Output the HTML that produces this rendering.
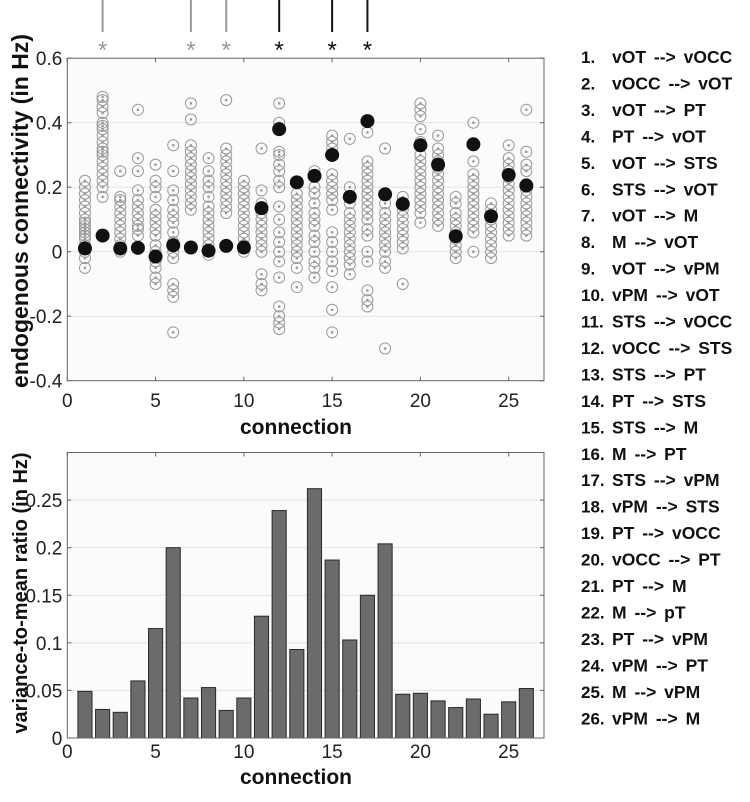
<!DOCTYPE html>
<html><head><meta charset="utf-8"><style>
body{margin:0;background:#fff;}
svg text{font-family:"Liberation Sans",sans-serif;}
</style></head><body>
<svg id="c" width="750" height="797" xmlns="http://www.w3.org/2000/svg"></svg>
<script>
const connections=[1,2,3,4,5,6,7,8,9,10,11,12,13,14,15,16,17,18,19,20,21,22,23,24,25,26];
const meanValues=[0.01,0.05,0.01,0.012,-0.015,0.02,0.013,0.003,0.018,0.013,0.135,0.38,0.215,0.235,0.3,0.17,0.405,0.178,0.148,0.33,0.27,0.048,0.333,0.11,0.238,0.205];
const ratioValues=[0.049,0.03,0.027,0.06,0.115,0.2,0.042,0.053,0.029,0.042,0.128,0.239,0.093,0.262,0.187,0.103,0.15,0.204,0.046,0.047,0.039,0.032,0.041,0.025,0.038,0.052];
const subjectValues=[
[-0.05,-0.02,0,0.02,0.04,0.05,0.06,0.07,0.08,0.09,0.1,0.12,0.14,0.16,0.18,0.2,0.22],
[0.17,0.2,0.22,0.24,0.26,0.28,0.3,0.31,0.32,0.34,0.36,0.38,0.39,0.4,0.43,0.45,0.47,0.48],
[0,0.02,0.04,0.06,0.08,0.1,0.12,0.14,0.16,0.17,0.25],
[0.05,0.07,0.08,0.1,0.12,0.14,0.16,0.19,0.25,0.29,0.44],
[-0.1,-0.08,-0.05,-0.03,0,0.02,0.05,0.07,0.09,0.11,0.13,0.17,0.2,0.22,0.27],
[-0.25,-0.14,-0.12,-0.1,-0.02,0,0.03,0.06,0.09,0.11,0.13,0.16,0.19,0.25,0.33],
[0.13,0.15,0.17,0.19,0.21,0.23,0.25,0.27,0.29,0.31,0.33,0.41,0.46],
[-0.01,0.02,0.04,0.06,0.08,0.1,0.12,0.14,0.17,0.2,0.22,0.25,0.29],
[0.12,0.14,0.16,0.18,0.2,0.22,0.24,0.26,0.28,0.3,0.32,0.47],
[0,0.02,0.04,0.06,0.08,0.1,0.12,0.14,0.16,0.18,0.2,0.22],
[-0.12,-0.1,-0.07,0,0.02,0.04,0.06,0.08,0.1,0.12,0.15,0.19,0.32],
[-0.24,-0.22,-0.2,-0.17,-0.08,-0.03,0,0.03,0.06,0.1,0.14,0.2,0.22,0.25,0.27,0.3,0.31,0.4,0.46],
[-0.11,-0.05,-0.02,0,0.02,0.04,0.06,0.08,0.1,0.12,0.14,0.16,0.18],
[-0.08,-0.05,-0.03,0,0.03,0.05,0.08,0.1,0.12,0.15,0.18,0.2,0.25],
[-0.25,-0.18,-0.11,-0.06,-0.03,0,0.03,0.06,0.13,0.16,0.18,0.2,0.22,0.24,0.32,0.34,0.36],
[-0.07,-0.04,-0.02,0,0.02,0.04,0.06,0.08,0.1,0.12,0.15,0.2,0.35],
[-0.17,-0.15,-0.12,-0.03,0,0.05,0.07,0.1,0.12,0.14,0.16,0.18,0.2,0.22,0.24,0.26,0.28,0.37],
[-0.3,-0.05,-0.03,0,0.02,0.04,0.06,0.08,0.1,0.12,0.15,0.32],
[-0.1,0.01,0.03,0.05,0.07,0.09,0.11,0.13,0.15,0.17],
[0.09,0.12,0.14,0.16,0.18,0.2,0.22,0.24,0.26,0.28,0.3,0.34,0.38,0.42,0.44,0.46],
[0.08,0.1,0.12,0.14,0.16,0.18,0.2,0.22,0.24,0.26,0.28,0.3,0.32,0.36],
[-0.02,0,0.02,0.04,0.06,0.08,0.1,0.12,0.15,0.17],
[0,0.06,0.08,0.1,0.12,0.14,0.16,0.18,0.2,0.22,0.24,0.28,0.4],
[-0.02,0,0.02,0.04,0.06,0.08,0.1,0.13,0.15],
[0.05,0.07,0.09,0.11,0.13,0.15,0.17,0.19,0.21,0.23,0.25,0.27,0.29,0.33],
[0.05,0.07,0.09,0.11,0.13,0.15,0.17,0.19,0.21,0.25,0.27,0.31,0.44]];
const sigGray=[2,7,9];
const sigBlack=[12,15,17];
const xTicks=[0,5,10,15,20,25];
const topYTicks=[-0.4,-0.2,0,0.2,0.4,0.6];
const topYLabels=["-0.4","-0.2","0","0.2","0.4","0.6"];
const botYTicks=[0,0.05,0.1,0.15,0.2,0.25];
const botYLabels=["0","0.05","0.1","0.15","0.2","0.25"];
const legendLabels=["vOT --> vOCC","vOCC --> vOT","vOT --> PT","PT --> vOT","vOT --> STS","STS --> vOT","vOT --> M","M  --> vOT","vOT --> vPM","vPM --> vOT","STS --> vOCC","vOCC --> STS","STS --> PT","PT --> STS","STS --> M","M  --> PT","STS --> vPM","vPM  --> STS","PT --> vOCC","vOCC --> PT","PT --> M","M  --> pT","PT --> vPM","vPM --> PT","M  --> vPM","vPM --> M"];

const svg=document.getElementById('c');
const NS='http://www.w3.org/2000/svg';
function mk(tag,attrs,parent){const e=document.createElementNS(NS,tag);for(const k in attrs)e.setAttribute(k,attrs[k]);(parent||svg).appendChild(e);return e;}
const L=67.3,R=544;
const xS=v=>L+v*(R-L)/27;
const yT=v=>251.7-v*(64.5/0.2);
const yB=v=>738-v*(285.5/0.3);

// top panel
let g=mk('g',{});


let bg=mk('rect',{x:L,y:yT(0.6),width:R-L,height:yT(-0.4)-yT(0.6),fill:'#fbfbfb'},g);

topYTicks.forEach((t,i)=>{
  if(t>-0.4&&t<0.6){const gl=mk('line',{x1:L,x2:R,y1:yT(t),y2:yT(t),stroke:'#e4e4e4','stroke-width':1},g);
  }
  mk('line',{x1:L,x2:L+4,y1:yT(t),y2:yT(t),stroke:'#666'},g);
  mk('line',{x1:R,x2:R-4,y1:yT(t),y2:yT(t),stroke:'#666'},g);
  const tx=mk('text',{x:L-5,y:yT(t)+7,'text-anchor':'end','font-size':19,fill:'#222'},g);
  tx.textContent=topYLabels[i];
  
});
subjectValues.forEach((arr,i)=>{
  arr.forEach(v=>{
    const c=mk('circle',{cx:xS(connections[i]),cy:yT(v),r:5.5,fill:'none',stroke:'#9a9a9a','stroke-width':1},g);
    
    const d=mk('circle',{cx:xS(connections[i]),cy:yT(v),r:1.3,fill:'#999'},g);
    
  });
});
meanValues.forEach((v,i)=>{
  const c=mk('circle',{cx:xS(connections[i]),cy:yT(v),r:7,fill:'#111'},g);
  
});
let fr=mk('rect',{x:L,y:yT(0.6),width:R-L,height:yT(-0.4)-yT(0.6),fill:'none',stroke:'#666','stroke-width':1},g);

xTicks.forEach(t=>{
  mk('line',{x1:xS(t),x2:xS(t),y1:yT(-0.4),y2:yT(-0.4)-4,stroke:'#666'},g);
  mk('line',{x1:xS(t),x2:xS(t),y1:yT(0.6),y2:yT(0.6)+4,stroke:'#666'},g);
  const tx=mk('text',{x:xS(t),y:407,'text-anchor':'middle','font-size':19,fill:'#222'},g);
  tx.textContent=t;
  
});
[[sigGray,'#999'],[sigBlack,'#111']].forEach(([arr,col])=>{
  arr.forEach(s=>{
    const ln=mk('line',{x1:xS(s),x2:xS(s),y1:0,y2:32,stroke:col,'stroke-width':2},g);
    
    const st=mk('text',{x:xS(s),y:58,'text-anchor':'middle','font-size':24,fill:col},g);
    st.textContent='*';
    
  });
});
let yl=mk('text',{transform:'translate(28,211) rotate(-90)','text-anchor':'middle','font-size':23,'font-weight':'bold',fill:'#111'});
yl.textContent='endogenous connectivity (in Hz)';

let xl=mk('text',{x:296,y:434,'text-anchor':'middle','font-size':21,'font-weight':'bold',fill:'#111'});
xl.textContent='connection';


// bottom panel
let g2=mk('g',{});


let bg2=mk('rect',{x:L,y:yB(0.3),width:R-L,height:yB(0)-yB(0.3),fill:'#fbfbfb'},g2);

botYTicks.forEach((t,i)=>{
  if(t>0){const gl=mk('line',{x1:L,x2:R,y1:yB(t),y2:yB(t),stroke:'#e4e4e4'},g2);
  }
  mk('line',{x1:L,x2:L+4,y1:yB(t),y2:yB(t),stroke:'#666'},g2);
  mk('line',{x1:R,x2:R-4,y1:yB(t),y2:yB(t),stroke:'#666'},g2);
  const tx=mk('text',{x:L-5,y:yB(t)+7,'text-anchor':'end','font-size':19,fill:'#222'},g2);
  tx.textContent=botYLabels[i];
  
});
const bw=0.8*(R-L)/27;
ratioValues.forEach((v,i)=>{
  const b=mk('rect',{x:xS(connections[i])-bw/2,y:yB(v),width:bw,height:yB(0)-yB(v),fill:'#6b6b6b',stroke:'#2a2a2a','stroke-width':1},g2);
  
});
let fr2=mk('rect',{x:L,y:yB(0.3),width:R-L,height:yB(0)-yB(0.3),fill:'none',stroke:'#666'},g2);

xTicks.forEach(t=>{
  mk('line',{x1:xS(t),x2:xS(t),y1:yB(0.3),y2:yB(0.3)+4,stroke:'#666'},g2);
  const tx=mk('text',{x:xS(t),y:758,'text-anchor':'middle','font-size':19,fill:'#222'},g2);
  tx.textContent=t;
  
});
let yl2=mk('text',{transform:'translate(27,593) rotate(-90)','text-anchor':'middle','font-size':20,'font-weight':'bold',fill:'#111'});
yl2.textContent='variance-to-mean ratio (in Hz)';

let xl2=mk('text',{x:296,y:784,'text-anchor':'middle','font-size':21,'font-weight':'bold',fill:'#111'});
xl2.textContent='connection';


// legend
let lg=mk('g',{});


legendLabels.forEach((s,i)=>{
  const y=63+i*26.45;
  const n=mk('text',{x:581,y:y,'font-size':17,'font-weight':'bold',fill:'#111'},lg);
  n.textContent=(i+1)+'.';
  
  const t=mk('text',{x:612,y:y,'font-size':17.5,'font-weight':'bold',fill:'#111','word-spacing':'3'},lg);
  t.textContent=s;
  
});
</script>
</body></html>
